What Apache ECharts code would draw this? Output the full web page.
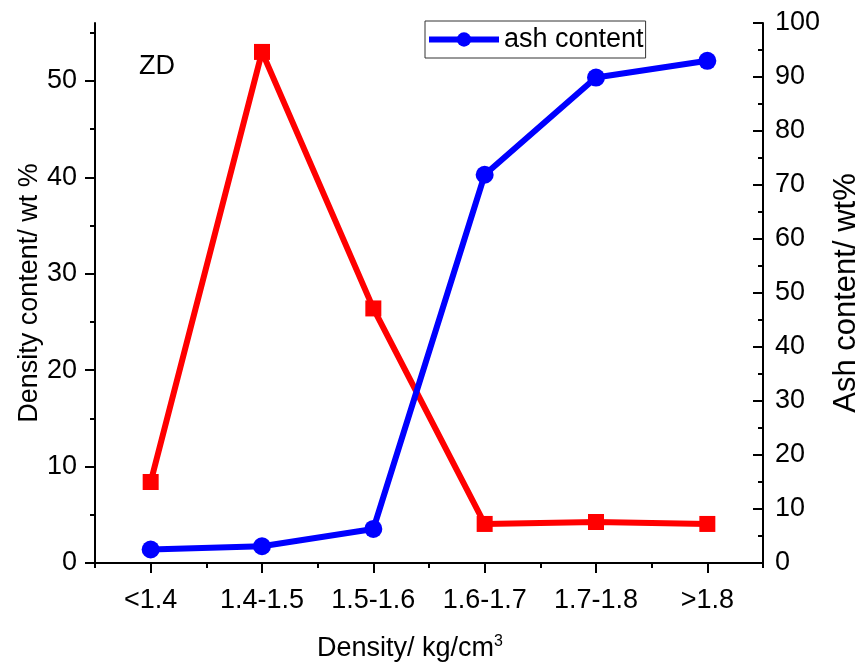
<!DOCTYPE html>
<html>
<head>
<meta charset="utf-8">
<script src="https://cdn.jsdelivr.net/npm/echarts@6/dist/echarts.min.js"></script>
<style>
html,body{margin:0;padding:0;background:#fff;}
#chart{width:860px;height:667px;}
</style>
</head>
<body>
<div id="chart"></div>
<script>
var categories = ['<1.4', '1.4-1.5', '1.5-1.6', '1.6-1.7', '1.7-1.8', '>1.8'];
var densityContent = [8.4, 53.0, 26.4, 4.05, 4.25, 4.05];
var ashContent = [2.5, 3.1, 6.3, 71.9, 89.9, 93.0];
var leftMajorTicks = [0, 10, 20, 30, 40, 50];
var leftMinorTicks = [5, 15, 25, 35, 45, 55];

var FONT = 'Liberation Sans, Arial, sans-serif';
var FS = 27;
var chart = echarts.init(document.getElementById('chart'));
var option = {
  backgroundColor: '#fff',
  animation: false,
  textStyle: { fontFamily: FONT, color: '#000' },
  grid: { left: 95, right: 97, top: 23, bottom: 104, containLabel: false, outerBoundsMode: 'none' },
  legend: {
    data: ['ash content'],
    left: 425, top: 21,
    orient: 'horizontal',
    borderColor: '#333', borderWidth: 1,
    padding: [5, 2, 5, 1],
    itemWidth: 70, itemHeight: 18,
    lineStyle: { width: 6, color: '#0000ff' },
    textStyle: { fontSize: FS, color: '#000', fontFamily: FONT }
  },
  graphic: [{
    type: 'text', left: 139, top: 53,
    style: { text: 'ZD', fontSize: FS, fontFamily: FONT, fill: '#000' }
  }],
  xAxis: [{
    type: 'category',
    data: categories,
    boundaryGap: true,
    position: 'bottom',
    name: '{a|Density/ kg/cm}{s|3}',
    nameLocation: 'middle',
    nameGap: 71,
    nameMoveOverlap: false,
    nameTextStyle: {
      rich: {
        a: { fontSize: FS, fontFamily: FONT, color: '#000' },
        s: { fontSize: 16, fontFamily: FONT, color: '#000', verticalAlign: 'top', padding: [0, 38, 14, 0] }
      }
    },
    axisLine: { show: true, lineStyle: { color: '#000', width: 2 } },
    axisTick: { show: true, alignWithLabel: true, length: 10, lineStyle: { color: '#000', width: 2 } },
    axisLabel: { fontSize: FS, color: '#000', margin: 24, fontFamily: FONT },
    splitLine: { show: false }
  }, {
    type: 'category',
    data: categories,
    boundaryGap: true,
    position: 'bottom',
    axisLine: { show: false },
    axisTick: { show: true, length: 5, lineStyle: { color: '#000', width: 2 } },
    axisLabel: { show: false },
    splitLine: { show: false }
  }],
  yAxis: [{
    type: 'value',
    position: 'left',
    min: 0, max: 56,
    name: 'Density content/ wt %',
    nameLocation: 'middle',
    nameRotate: 90,
    nameGap: 52,
    nameMoveOverlap: false,
    nameTextStyle: { fontSize: FS, color: '#000', fontFamily: FONT },
    axisLine: { show: true, lineStyle: { color: '#000', width: 2 } },
    axisTick: { show: true, length: 10, customValues: leftMajorTicks, lineStyle: { color: '#000', width: 2 } },
    axisLabel: { fontSize: FS, color: '#000', margin: 18, customValues: leftMajorTicks, fontFamily: FONT },
    splitLine: { show: false }
  }, {
    type: 'value',
    position: 'left',
    min: 0, max: 56,
    axisLine: { show: false },
    axisTick: { show: true, length: 5, customValues: leftMinorTicks, lineStyle: { color: '#000', width: 2 } },
    axisLabel: { show: false },
    splitLine: { show: false }
  }, {
    type: 'value',
    position: 'right',
    min: 0, max: 100, interval: 10,
    name: 'Ash content/ wt%',
    nameLocation: 'middle',
    nameRotate: 90,
    nameGap: 68,
    nameTextStyle: { fontSize: 31, color: '#000', fontFamily: FONT },
    axisLine: { show: true, lineStyle: { color: '#000', width: 2 } },
    axisTick: { show: true, inside: true, length: 10, lineStyle: { color: '#000', width: 2 } },
    minorTick: { show: true, splitNumber: 2, length: 5, lineStyle: { color: '#000', width: 2 } },
    axisLabel: { fontSize: FS, color: '#000', margin: 12, fontFamily: FONT },
    splitLine: { show: false }
  }],
  series: [{
    name: 'density content',
    type: 'line',
    xAxisIndex: 0, yAxisIndex: 0,
    data: densityContent,
    symbol: 'rect', symbolSize: 16,
    itemStyle: { color: '#ff0000' },
    lineStyle: { color: '#ff0000', width: 6 },
    z: 2
  }, {
    name: 'ash content',
    type: 'line',
    xAxisIndex: 0, yAxisIndex: 2,
    data: ashContent,
    symbol: 'circle', symbolSize: 18,
    itemStyle: { color: '#0000ff' },
    lineStyle: { color: '#0000ff', width: 6 },
    z: 3
  }]
};
chart.setOption(option);
</script>
</body>
</html>
